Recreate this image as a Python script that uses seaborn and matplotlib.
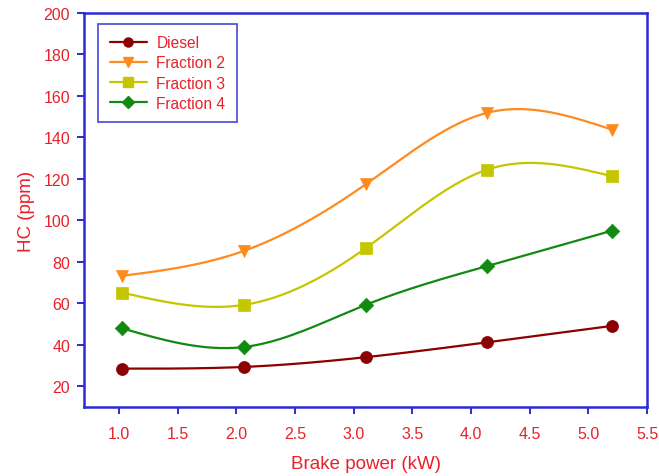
import numpy as np
import pandas as pd
import matplotlib
import matplotlib.pyplot as plt
import seaborn as sns
from matplotlib.lines import Line2D

matplotlib.use("Agg")

# Brake power (kW) and HC emissions (ppm)
BRAKE_POWER = [1.02, 2.06, 3.10, 4.14, 5.20]
DIESEL = [28.5, 29.3, 34.0, 41.2, 49.1]
FRACTION_2 = [73.2, 85.2, 117.3, 151.9, 143.8]
FRACTION_3 = [65.2, 59.2, 86.5, 124.5, 121.3]
FRACTION_4 = [48.0, 38.9, 59.2, 78.0, 95.0]

SERIES_NAMES = ["Diesel", "Fraction 2", "Fraction 3", "Fraction 4"]
X_TICKS = [1.0, 1.5, 2.0, 2.5, 3.0, 3.5, 4.0, 4.5, 5.0, 5.5]
Y_TICKS = [20, 40, 60, 80, 100, 120, 140, 160, 180, 200]

COLORS = {
    "Diesel": "#8b0000",
    "Fraction 2": "#ff8a1e",
    "Fraction 3": "#c6c600",
    "Fraction 4": "#128a12",
}
MARKERS = {"Diesel": "o", "Fraction 2": "v", "Fraction 3": "s", "Fraction 4": "D"}
MARKER_SIZES = {"Diesel": 75, "Fraction 2": 75, "Fraction 3": 65, "Fraction 4": 55}
TEXT_RED = "#e8212b"
FRAME_BLUE = "#2b2bd6"


def natural_spline(x, y, num=200):
    """Natural cubic spline through the points, used only to draw the smooth line."""
    x = np.asarray(x, float)
    y = np.asarray(y, float)
    n = len(x)
    h = np.diff(x)
    a = np.zeros((n, n))
    b = np.zeros(n)
    a[0, 0] = a[-1, -1] = 1.0
    for i in range(1, n - 1):
        a[i, i - 1] = h[i - 1]
        a[i, i] = 2 * (h[i - 1] + h[i])
        a[i, i + 1] = h[i]
        b[i] = 6 * ((y[i + 1] - y[i]) / h[i] - (y[i] - y[i - 1]) / h[i - 1])
    m = np.linalg.solve(a, b)
    xs = np.linspace(x[0], x[-1], num)
    idx = np.clip(np.searchsorted(x, xs) - 1, 0, n - 2)
    t0 = x[idx + 1] - xs
    t1 = xs - x[idx]
    hi = h[idx]
    ys = (m[idx] * t0 ** 3 / (6 * hi) + m[idx + 1] * t1 ** 3 / (6 * hi)
          + (y[idx] / hi - m[idx] * hi / 6) * t0
          + (y[idx + 1] / hi - m[idx + 1] * hi / 6) * t1)
    return xs, ys


def main():
    sns.set_style("white")
    plt.rcParams["font.family"] = ["Liberation Sans", "DejaVu Sans"]

    values = [DIESEL, FRACTION_2, FRACTION_3, FRACTION_4]
    points = pd.DataFrame(
        [{"power": x, "hc": v, "fuel": name}
         for name, series in zip(SERIES_NAMES, values)
         for x, v in zip(BRAKE_POWER, series)]
    )
    curves = []
    for name, series in zip(SERIES_NAMES, values):
        xs, ys = natural_spline(BRAKE_POWER, series)
        curves.append(pd.DataFrame({"power": xs, "hc": ys, "fuel": name}))
    curves = pd.concat(curves, ignore_index=True)

    fig = plt.figure(figsize=(6.59, 4.77), dpi=100)
    ax = fig.add_axes([0.1275, 0.1447, 0.8543, 0.826])

    sns.lineplot(data=curves, x="power", y="hc", hue="fuel", palette=COLORS,
                 hue_order=SERIES_NAMES, linewidth=1.6, legend=False, ax=ax,
                 sort=False, estimator=None)
    for name in SERIES_NAMES:
        sns.scatterplot(data=points[points["fuel"] == name], x="power", y="hc",
                        color=COLORS[name], marker=MARKERS[name],
                        s=MARKER_SIZES[name], edgecolor=COLORS[name],
                        linewidth=0.5, legend=False, ax=ax, zorder=3)

    ax.set_xlim(0.7, 5.5)
    ax.set_ylim(10, 200)
    ax.set_xticks(X_TICKS)
    ax.set_yticks(Y_TICKS)
    ax.set_xticklabels([f"{t:.1f}" for t in X_TICKS])
    ax.set_xlabel("Brake power (kW)", color=TEXT_RED, fontsize=13.5, labelpad=10)
    ax.set_ylabel("HC (ppm)", color=TEXT_RED, fontsize=13.5, labelpad=6)

    for spine in ax.spines.values():
        spine.set_color(FRAME_BLUE)
        spine.set_linewidth(1.8)
        spine.set_visible(True)
    ax.tick_params(axis="both", direction="out", length=5, width=1.4,
                   color=FRAME_BLUE, labelcolor=TEXT_RED, labelsize=11.5,
                   bottom=True, left=True, top=False, right=False, pad=5)
    ax.tick_params(axis="x", pad=9)

    handles = [
        Line2D([0], [0], color=COLORS[n], marker=MARKERS[n], markersize=6.5,
               markeredgecolor=COLORS[n], linewidth=1.6, label=n)
        for n in SERIES_NAMES
    ]
    leg = ax.legend(handles=handles, loc="upper left",
                    bbox_to_anchor=(0.025, 0.973), frameon=True, fancybox=False,
                    fontsize=11.2, handlelength=2.4, borderpad=0.75,
                    labelspacing=0.33, handletextpad=0.6, borderaxespad=0)
    leg.get_frame().set_edgecolor(FRAME_BLUE)
    leg.get_frame().set_linewidth(1.3)
    for text in leg.get_texts():
        text.set_color(TEXT_RED)

    fig.savefig("out.png", dpi=100)
    plt.close(fig)


if __name__ == "__main__":
    main()
